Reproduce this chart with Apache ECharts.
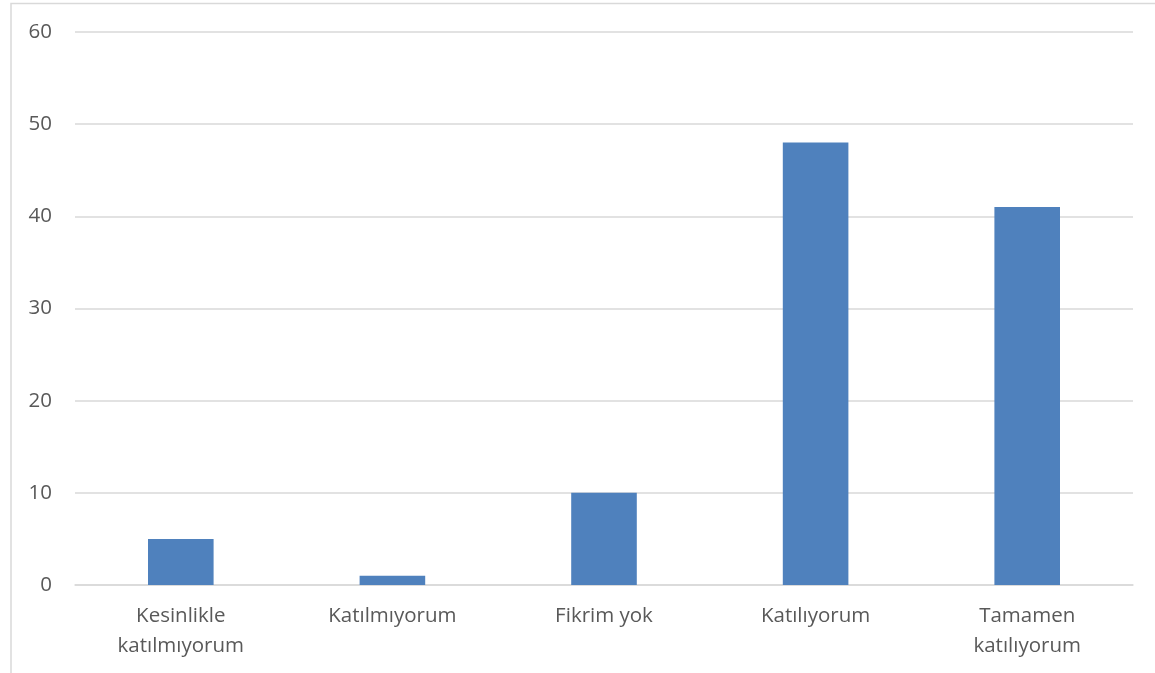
<!DOCTYPE html>
<html>
<head>
<meta charset="utf-8">
<script src="https://cdn.jsdelivr.net/npm/echarts@6/dist/echarts.min.js"></script>
<style>
  html, body { margin: 0; padding: 0; background: #fff; }
  #chart { width: 1155px; height: 673px; }
</style>
</head>
<body>
<div id="chart"></div>
<script>
// Response categories (Likert scale) and counts
const categories = ['Kesinlikle\nkatılmıyorum', 'Katılmıyorum', 'Fikrim yok', 'Katılıyorum', 'Tamamen\nkatılıyorum'];
const counts = [5, 1, 10, 48, 41];
const yTicks = [0, 10, 20, 30, 40, 50, 60];

const chart = echarts.init(document.getElementById('chart'), null, { renderer: 'canvas' });

const labelFont = '"Open Sans", "Noto Sans", sans-serif';

chart.setOption({
  animation: false,
  backgroundColor: '#ffffff',
  graphic: [{
    // frame around the chart area (open on right and bottom)
    type: 'rect',
    shape: { x: 11, y: 3.5, width: 1200, height: 720 },
    style: { fill: 'none', stroke: '#d9d9d9', lineWidth: 1.5 },
    silent: true
  }],
  grid: { left: 75, right: 22, top: 32, bottom: 88, containLabel: false },
  xAxis: {
    type: 'category',
    data: categories,
    axisLine: { show: true, lineStyle: { color: '#d9d9d9', width: 1.5 } },
    axisTick: { show: false },
    axisLabel: {
      color: '#595959',
      fontFamily: labelFont,
      fontSize: 20.5,
      lineHeight: 30,
      margin: 16,
      interval: 0
    }
  },
  yAxis: {
    type: 'value',
    min: yTicks[0],
    max: yTicks[yTicks.length - 1],
    interval: 10,
    axisLine: { show: false },
    axisTick: { show: false },
    splitLine: { lineStyle: { color: '#d9d9d9', width: 1.5 } },
    axisLabel: {
      color: '#595959',
      fontFamily: labelFont,
      fontSize: 20.5,
      margin: 23
    }
  },
  series: [{
    type: 'bar',
    data: counts,
    barWidth: '31%',
    itemStyle: { color: '#4f81bd' }
  }]
});
</script>
</body>
</html>
